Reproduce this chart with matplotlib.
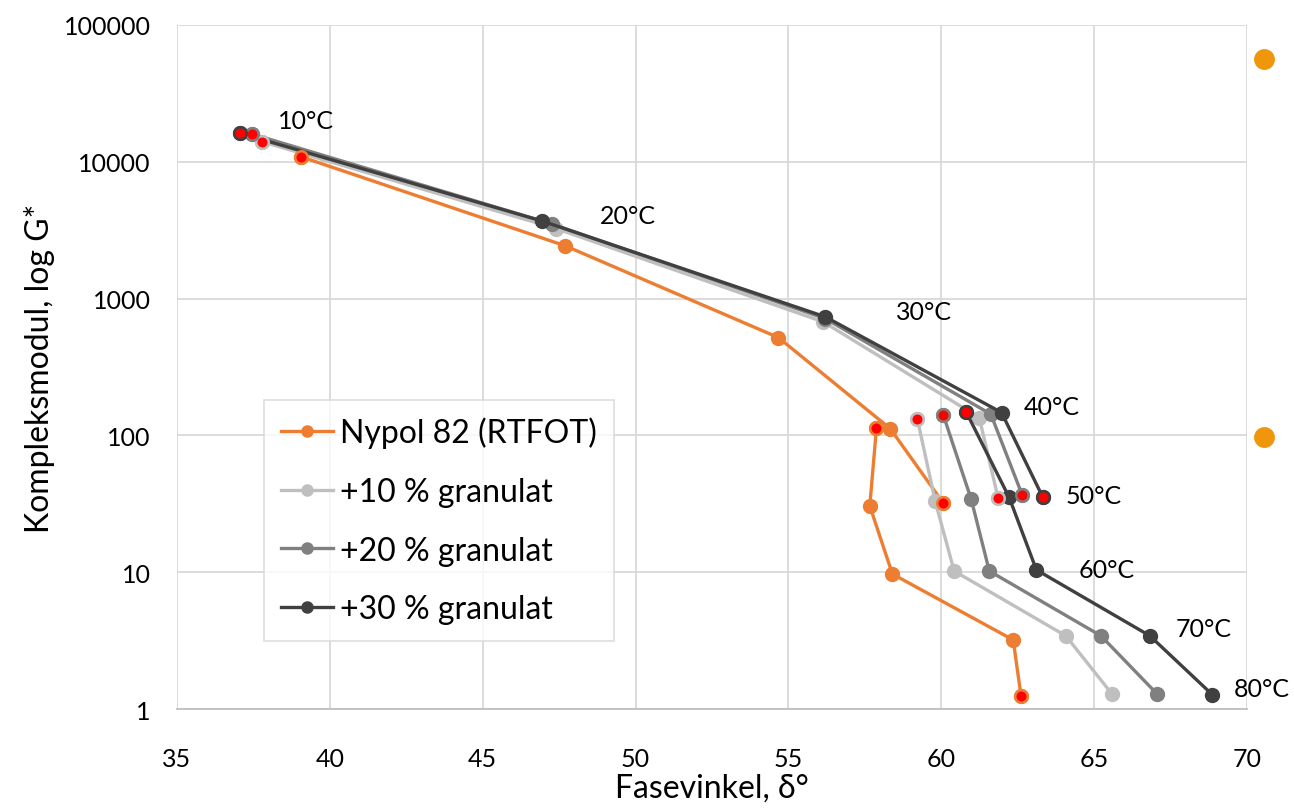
import matplotlib.pyplot as plt
from matplotlib.lines import Line2D

plt.rcParams['font.family'] = ['Lato', 'DejaVu Sans']

# Temperaturer for hver måleserie
temps_upper = [10, 20, 30, 40, 50]
temps_lower = [40, 50, 60, 70, 80]

# Nypol 82 (RTFOT)
nypol_d_up = [39.05, 47.68, 54.67, 58.33, 60.07]
nypol_g_up = [10900, 2440, 519, 112, 31.9]
nypol_d_lo = [57.88, 57.66, 58.40, 62.35, 62.61]
nypol_g_lo = [114, 30.5, 9.7, 3.2, 1.24]

# +10 % granulat
g10_d_up = [37.77, 47.41, 56.14, 61.24, 61.86]
g10_g_up = [14060, 3245, 676, 135, 34.7]
g10_d_lo = [59.22, 59.80, 60.42, 64.07, 65.58]
g10_g_lo = [131, 33, 10.2, 3.43, 1.29]

# +20 % granulat
g20_d_up = [37.44, 47.25, 56.20, 61.62, 62.65]
g20_g_up = [16000, 3520, 715, 143, 36.5]
g20_d_lo = [60.07, 60.98, 61.57, 65.22, 67.07]
g20_g_lo = [140, 34, 10.2, 3.43, 1.28]

# +30 % granulat
g30_d_up = [37.06, 46.94, 56.21, 61.97, 63.31]
g30_g_up = [16200, 3690, 735, 147, 35.7]
g30_d_lo = [60.81, 62.22, 63.11, 66.82, 68.87]
g30_g_lo = [149, 35.2, 10.4, 3.43, 1.27]

# Punkter markert med rødt
red_up = [True, False, False, False, True]
red_lo_nypol = [True, False, False, False, True]
red_lo_gran = [True, False, False, False, False]

# Ekstra punkter utenfor aksen
extra_d = [70.56, 70.56]
extra_g = [56000, 98]

# Etiketter for temperatur
label_text = ['10°C', '20°C', '30°C', '40°C', '50°C', '60°C', '70°C', '80°C']
label_d = [38.3, 48.82, 58.53, 62.71, 64.08, 64.48, 67.65, 69.58]
label_g = [20200, 4030, 803, 163, 36.5, 10.5, 3.9, 1.42]

series = [
    ('Nypol 82 (RTFOT)', '#ED7D31', nypol_d_up, nypol_g_up, nypol_d_lo, nypol_g_lo, red_lo_nypol),
    ('+10 % granulat', '#BFBFBF', g10_d_up, g10_g_up, g10_d_lo, g10_g_lo, red_lo_gran),
    ('+20 % granulat', '#808080', g20_d_up, g20_g_up, g20_d_lo, g20_g_lo, red_lo_gran),
    ('+30 % granulat', '#404040', g30_d_up, g30_g_up, g30_d_lo, g30_g_lo, red_lo_gran),
]

fig = plt.figure(figsize=(12.94, 8.12), dpi=100)
ax = fig.add_axes([0.1368, 0.1256, 0.8269, 0.8424])

handles = []
for name, color, d_up, g_up, d_lo, g_lo, red_lo in series:
    ax.plot(d_up, g_up, color=color, lw=2.4, marker='o', ms=10, zorder=3)
    ax.plot(d_lo, g_lo, color=color, lw=2.4, marker='o', ms=10, zorder=3)
    for d, g, r in zip(d_up + d_lo, g_up + g_lo, red_up + red_lo):
        if r:
            ax.plot(d, g, marker='o', ms=9, mfc='#FF0000', mec=color, mew=1.8, zorder=4)
    handles.append(Line2D([], [], color=color, lw=2.4, marker='o', ms=8, label=name))

ax.plot(extra_d, extra_g, 'o', color='#F0960A', ms=14, clip_on=False, zorder=5)

for t, d, g in zip(label_text, label_d, label_g):
    ax.text(d, g, t, fontsize=18, va='center', ha='left')

ax.set_yscale('log')
ax.set_xlim(35, 70)
ax.set_ylim(1, 100000)
ax.set_xticks(range(35, 71, 5))
ax.set_yticks([1, 10, 100, 1000, 10000, 100000])
ax.set_yticklabels(['1', '10', '100', '1000', '10000', '100000'])
ax.minorticks_off()
ax.tick_params(length=0, labelsize=18)
ax.tick_params(axis='x', pad=27)
ax.tick_params(axis='y', pad=19)
ax.grid(True, color='#D9D9D9', lw=1.3)
ax.set_axisbelow(True)
for side in ['top', 'right', 'left']:
    ax.spines[side].set_visible(False)
ax.spines['bottom'].set_color('#BFBFBF')
ax.spines['bottom'].set_linewidth(1.3)

ax.set_xlabel('Fasevinkel, δ°', fontsize=23, labelpad=2)
ax.set_ylabel('Kompleksmodul, log G*', fontsize=23, labelpad=6)

leg = ax.legend(handles=handles, loc='lower left', bbox_to_anchor=(0.081, 0.099),
                fontsize=23, frameon=True, fancybox=False, edgecolor='#D9D9D9',
                handlelength=1.65, handletextpad=0.2, labelspacing=0.9,
                borderpad=0.53, borderaxespad=0)
leg.get_frame().set_linewidth(1.3)

plt.savefig('out.png', dpi=100)
